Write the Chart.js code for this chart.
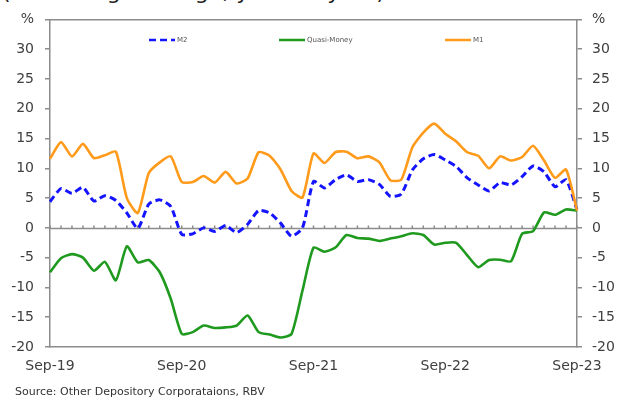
<!DOCTYPE html>
<html><head><meta charset="utf-8">
<script src="https://cdn.jsdelivr.net/npm/chart.js@4"></script>
<style>
html,body{margin:0;padding:0;background:#fff;}
#wrap{position:relative;width:620px;height:400px;overflow:hidden;background:#fff;}
#title{position:absolute;left:2px;top:-21px;font:22px "DejaVu Sans";color:#222;white-space:nowrap;}
#src{position:absolute;left:15px;top:385px;font:11px "DejaVu Sans";color:#333;white-space:nowrap;}
canvas{position:absolute;left:0;top:0;}
</style></head>
<body><div id="wrap"><div id="title">(Percentage change, year-on-year)</div><canvas id="c" width="620" height="400"></canvas><div id="src">Source: Other Depository Corporataions, RBV</div></div>
<script>
const months = ['Sep-19','Oct-19','Nov-19','Dec-19','Jan-20','Feb-20','Mar-20','Apr-20','May-20','Jun-20','Jul-20','Aug-20',
'Sep-20','Oct-20','Nov-20','Dec-20','Jan-21','Feb-21','Mar-21','Apr-21','May-21','Jun-21','Jul-21','Aug-21',
'Sep-21','Oct-21','Nov-21','Dec-21','Jan-22','Feb-22','Mar-22','Apr-22','May-22','Jun-22','Jul-22','Aug-22',
'Sep-22','Oct-22','Nov-22','Dec-22','Jan-23','Feb-23','Mar-23','Apr-23','May-23','Jun-23','Jul-23','Aug-23','Sep-23'];
const m2 = [4.4,6.6,5.8,6.8,4.5,5.4,4.6,2.5,-0.1,4.0,4.7,3.6,
-1.1,-1.0,0,-0.6,0.4,-0.8,0.6,2.9,2.5,0.8,-1.4,0,
7.8,6.7,8.1,8.9,7.8,8.1,7.3,5.3,5.7,9.7,11.6,12.3,
11.4,10.3,8.4,7.2,6.2,7.6,7.2,8.6,10.4,9.4,6.9,8.1,3.0];
const quasiMoney = [-7.45,-5.1,-4.4,-5.0,-7.2,-5.7,-8.8,-3.1,-5.8,-5.4,-7.45,-11.9,
-17.8,-17.5,-16.4,-16.8,-16.7,-16.4,-14.7,-17.5,-17.9,-18.4,-17.8,-10.5,
-3.3,-4.0,-3.3,-1.2,-1.7,-1.8,-2.2,-1.8,-1.4,-0.9,-1.2,-2.8,
-2.5,-2.5,-4.6,-6.6,-5.4,-5.35,-5.6,-1.0,-0.55,2.6,2.2,3.1,2.9];
const m1 = [11.6,14.4,12.0,14.1,11.7,12.2,12.8,5.0,2.5,9.2,11.0,12.0,
7.7,7.7,8.7,7.6,9.4,7.45,8.3,12.7,12.1,9.8,6.2,5.1,
12.5,10.9,12.7,12.8,11.7,12.0,11.0,8.0,8.1,13.5,16.0,17.5,
15.8,14.5,12.7,12.1,10.0,12.0,11.3,11.9,13.8,11.3,8.4,9.8,2.9];
const seriesNames = ['M2','Quasi-Money','M1'];
const yTicksMin = -20, yTicksMax = 35, yStep = 5;

const axisColor = '#8c8c8c';
const textColor = '#404040';
const tickFont = {family:'DejaVu Sans', size:14};

const zeroLine = {
  id:'zeroLine',
  beforeDatasetsDraw(chart){
    const {ctx, chartArea:a, scales:{x, y}} = chart;
    const y0 = Math.round(y.getPixelForValue(0)) + 0.5;
    ctx.save();
    ctx.strokeStyle = axisColor; ctx.lineWidth = 1.5;
    ctx.beginPath();
    ctx.moveTo(a.left, y0); ctx.lineTo(a.right, y0);
    for (let i = 0; i < months.length; i++) {
      const px = x.getPixelForValue(i);
      ctx.moveTo(px, y0); ctx.lineTo(px, y0 - 3);
    }
    ctx.stroke();
    ctx.restore();
  }
};
const insideLegend = {
  id:'insideLegend',
  afterDraw(chart){
    const {ctx} = chart;
    const xs = [149, 279, 445];
    const yL = 40;
    ctx.save();
    ctx.font = '7px "DejaVu Sans"';
    ctx.textBaseline = 'middle';
    chart.data.datasets.forEach((ds, i) => {
      ctx.strokeStyle = ds.borderColor; ctx.lineWidth = 2.5;
      ctx.setLineDash(ds.borderDash || []);
      ctx.beginPath(); ctx.moveTo(xs[i], yL); ctx.lineTo(xs[i] + 26, yL); ctx.stroke();
      ctx.setLineDash([]);
      ctx.fillStyle = '#555';
      ctx.fillText(ds.label, xs[i] + 28, yL);
    });
    ctx.restore();
  }
};

new Chart(document.getElementById('c'), {
  type:'line',
  data:{
    labels: months,
    datasets:[
      {label:seriesNames[0], data:m2, borderColor:'#1414ff', borderWidth:3, borderDash:[7,4], pointRadius:0, tension:0.2, order:2, yAxisID:'y'},
      {label:seriesNames[1], data:quasiMoney, borderColor:'#1f9a1f', borderWidth:2.6, pointRadius:0, tension:0.2, order:1, yAxisID:'y'},
      {label:seriesNames[2], data:m1, borderColor:'#ff9a1a', borderWidth:2.6, pointRadius:0, tension:0.2, order:0, yAxisID:'y'}
    ]
  },
  options:{
    responsive:false, animation:false, devicePixelRatio:1,
    layout:{padding:0},
    plugins:{legend:{display:false}, tooltip:{enabled:false}, title:{display:false}},
    scales:{
      x:{type:'category', position:'bottom', offset:false,
        grid:{display:false, drawTicks:false},
        border:{display:true, color:axisColor, width:1.5},
        ticks:{autoSkip:false, maxRotation:0, padding:11, font:tickFont, color:textColor,
          callback(v){ const l = this.getLabelForValue(v); return l.startsWith('Sep') ? l : ''; }},
        afterFit(s){ s.height = 53; }},
      xTop:{type:'category', position:'top', offset:false,
        grid:{display:false, drawTicks:false},
        border:{display:true, color:axisColor, width:1.5},
        ticks:{display:false},
        afterFit(s){ s.height = 13; }},
      y:{position:'left', min:yTicksMin, max:yTicksMax,
        grid:{drawOnChartArea:false, drawTicks:true, tickLength:5, color:axisColor, lineWidth:1.5},
        border:{display:true, color:axisColor, width:1.5},
        ticks:{stepSize:yStep, padding:11, font:tickFont, color:textColor,
          callback(v){ return v === yTicksMax ? '%' : v; }},
        afterFit(s){ s.width = 50; }},
      y2:{position:'right', min:yTicksMin, max:yTicksMax,
        grid:{drawOnChartArea:false, drawTicks:true, tickLength:5, color:axisColor, lineWidth:1.5},
        border:{display:true, color:axisColor, width:1.5},
        ticks:{stepSize:yStep, padding:10, font:tickFont, color:textColor,
          callback(v){ return v === yTicksMax ? '%' : v; }},
        afterFit(s){ s.width = 43; }}
    }
  },
  plugins:[zeroLine, insideLegend]
});
</script>
</body></html>
